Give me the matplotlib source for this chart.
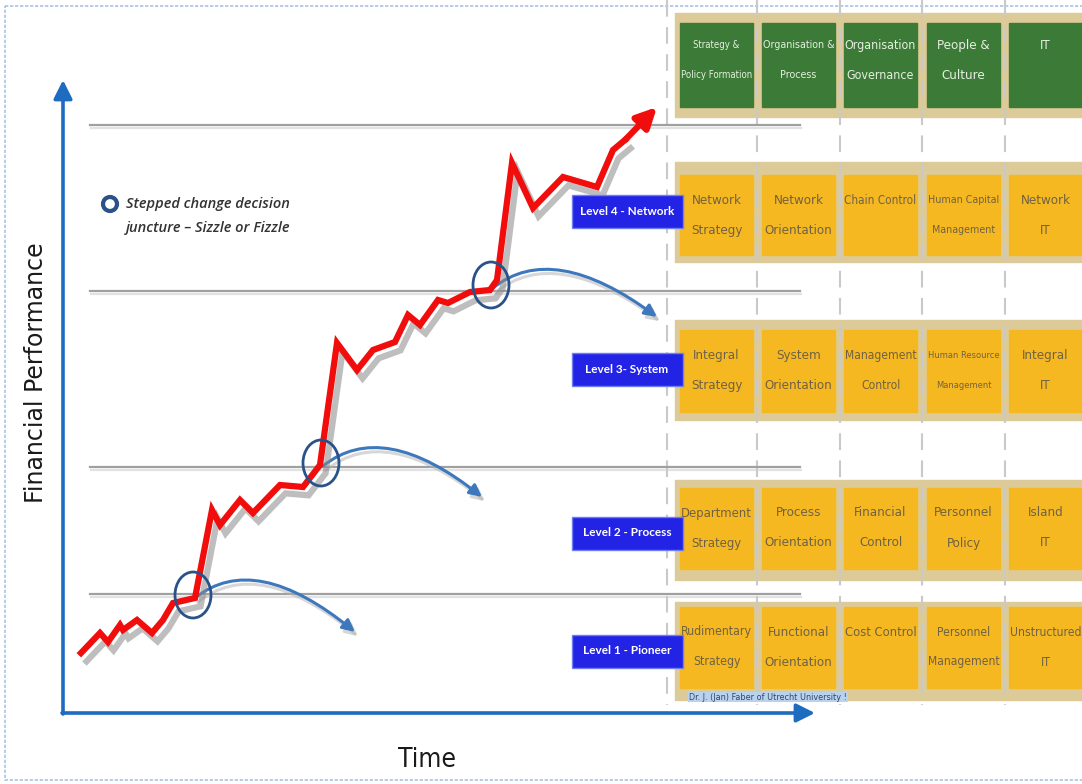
import matplotlib
matplotlib.use("Agg")
import matplotlib.pyplot as plt
import matplotlib.patheffects as pe
from matplotlib import font_manager
from matplotlib.patches import Rectangle, Ellipse, Circle, FancyArrowPatch
from matplotlib.path import Path

# ==============================
# -------- DATA ----------------
# ==============================

# red performance line (time, performance) in canvas units
perf_time = [81, 100, 108, 120, 123, 137, 152, 163, 173, 195, 212, 220, 240, 253,
             280, 303, 320, 337, 357, 373, 395, 408, 420, 438, 448, 470, 490, 497,
             512, 533, 563, 597, 613, 625]
perf_value = [653, 633, 642, 625, 630, 620, 633, 620, 603, 598, 510, 525, 500, 513,
              485, 487, 465, 343, 370, 350, 342, 315, 325, 300, 303, 292, 290, 280,
              163, 208, 177, 187, 150, 140]
perf_tip = (657, 107)

# decision junctures (circles) and the "fizzle" curves leaving them
junct_x = [193, 321, 491]
junct_y = [595, 463, 285]
fizzle_end_x = [355, 482, 657]
fizzle_end_y = [632, 497, 317]

# stepped levels (grey horizontal lines)
level_lines = [125, 291, 467, 594]

# table
col_headers = ["Strategy &\nPolicy Formation", "Organisation &\nProcess",
               "Organisation\nGovernance", "People &\nCulture", "IT"]
level_names = ["Level 4 - Network", "Level 3- System", "Level 2 - Process", "Level 1 - Pioneer"]
level_cells = [
    ["Network\nStrategy", "Network\nOrientation", "Chain Control", "Human Capital\nManagement", "Network\nIT"],
    ["Integral\nStrategy", "System\nOrientation", "Management\nControl", "Human Resource\nManagement", "Integral\nIT"],
    ["Department\nStrategy", "Process\nOrientation", "Financial\nControl", "Personnel\nPolicy", "Island\nIT"],
    ["Rudimentary\nStrategy", "Functional\nOrientation", "Cost Control", "Personnel\nManagement", "Unstructured\nIT"],
]

# ==============================
# -------- LAYOUT --------------
# ==============================

W, H = 1082, 784
col_left = [680, 762, 844, 927, 1009]
col_w = 73
dash_x = [667, 757, 840, 922, 1005]
row_beige = [(162, 262), (320, 420), (480, 580), (602, 700)]
row_cell = [(175, 255), (330, 412), (488, 569), (607, 688)]
label_y = [211, 369, 533, 651]

BLUE_AX = "#1e6cc0"
BEIGE = "#dccb98"
ORANGE = "#f6b821"
GREEN = "#3b7b37"
CELL_TXT = "#6f6243"


def narrow_font():
    # pick a condensed face if one is installed, else a plain one
    for fam, st in [("Liberation Sans Narrow", "normal"), ("DejaVu Sans", "condensed")]:
        try:
            fp = font_manager.FontProperties(family=fam, stretch=st)
            f = font_manager.findfont(fp, fallback_to_default=False)
        except Exception:
            continue
        if "Narrow" in f or "Condensed" in f:
            return dict(family=fam, fontstretch=st)
    return dict(family="Liberation Sans")


NARROW = narrow_font()

fig = plt.figure(figsize=(W / 100, H / 100), dpi=100)
ax = fig.add_axes([0, 0, 1, 1])
ax.set_xlim(0, W)
ax.set_ylim(H, 0)
ax.axis("off")
renderer = fig.canvas.get_renderer()


def cell_text(cx, y0, txt, color, fs=9.5, maxw=72):
    # one text per line; the whole cell shrinks together until every line fits
    texts = []
    for i, line in enumerate(txt.split("\n")):
        texts.append(ax.text(cx + col_w / 2, y0 + 30 * i, line, ha="center", va="center",
                             fontsize=fs, color=color, zorder=4, **NARROW))
    widest = max(t.get_window_extent(renderer).width for t in texts)
    if widest > maxw:
        for t in texts:
            t.set_fontsize(fs * maxw / widest)


# outer frame
ax.add_patch(Rectangle((5, 6), W, 774, fill=False, ec="#a9c3e6", lw=1.2, ls=(0, (2, 1))))

# dashed column separators
for x in dash_x:
    ax.plot([x, x], [0, 705], color="#c9c9c9", lw=1.5, ls=(0, (8, 5)), zorder=2)

# grey level lines
for y in level_lines:
    ax.plot([90, 800], [y, y], color="#a0a0a0", lw=1.6, zorder=3,
            path_effects=[pe.SimpleLineShadow(offset=(1, -2), shadow_color="#cfcfcf", alpha=0.6), pe.Normal()])

# axes arrows
ax.annotate("", xy=(63, 80), xytext=(63, 714),
            arrowprops=dict(arrowstyle="-|>", color=BLUE_AX, lw=2.6, mutation_scale=28, shrinkA=0, shrinkB=0))
ax.annotate("", xy=(815, 713), xytext=(62, 713),
            arrowprops=dict(arrowstyle="-|>", color=BLUE_AX, lw=2.6, mutation_scale=28, shrinkA=0, shrinkB=0))
ax.text(36, 373, "Financial Performance", rotation=90, ha="center", va="center",
        fontsize=17, color="#1a1a1a", family="DejaVu Sans")
ax.text(427, 760, "Time", ha="center", va="center", fontsize=19, color="#1a1a1a", **NARROW)

# fizzle curves
for sx, sy, ex, ey in zip(junct_x, junct_y, fizzle_end_x, fizzle_end_y):
    path = Path([(sx + 2, sy + 3), (sx + 62, sy - 45), (ex, ey)],
                [Path.MOVETO, Path.CURVE3, Path.CURVE3])
    arr = FancyArrowPatch(path=path, arrowstyle="-|>", mutation_scale=18, color="#3d78bd",
                          lw=2.2, zorder=5,
                          path_effects=[pe.SimpleLineShadow(offset=(2, -3), shadow_color="#b0b0b0", alpha=0.5),
                                        pe.Normal()])
    ax.add_patch(arr)

# red performance line
ax.plot(perf_time, perf_value, color="#f20d0d", lw=4.5, solid_joinstyle="miter", zorder=6,
        path_effects=[pe.SimpleLineShadow(offset=(4, -6), shadow_color="#8a8a8a", alpha=0.55, rho=0.3),
                      pe.Normal()])
ax.annotate("", xy=perf_tip, xytext=(perf_time[-1], perf_value[-1]),
            arrowprops=dict(arrowstyle="-|>", color="#f20d0d", lw=4.5, mutation_scale=30,
                            shrinkA=0, shrinkB=0), zorder=6)

# juncture circles
for x, y in zip(junct_x, junct_y):
    ax.add_patch(Ellipse((x, y), 36, 46, fill=False, ec="#2a5288", lw=2, zorder=7))

# legend
ax.add_patch(Circle((110, 204), 7, fill=False, ec="#2a5288", lw=3))
ax.text(126, 204, "Stepped change decision", fontsize=10.5, style="italic", weight="semibold",
        color="#333333", va="center", family="Open Sans")
ax.text(126, 228, "juncture \u2013 Sizzle or Fizzle", fontsize=10.5, style="italic", weight="semibold",
        color="#333333", va="center", family="Open Sans")

# header row
ax.add_patch(Rectangle((675, 13), W - 675, 104, color=BEIGE, zorder=1))
for cx, txt in zip(col_left, col_headers):
    ax.add_patch(Rectangle((cx, 23), col_w, 84, color=GREEN, zorder=3))
    cell_text(cx, 45, txt, "#e6eee0")

# level rows
for (bt, bb), (ct, cb), ly, name, cells in zip(row_beige, row_cell, label_y, level_names, level_cells):
    ax.add_patch(Rectangle((675, bt), W - 675, bb - bt, color=BEIGE, zorder=1))
    for cx, txt in zip(col_left, cells):
        ax.add_patch(Rectangle((cx, ct), col_w, cb - ct, color=ORANGE, zorder=3))
        cell_text(cx, ct + 25, txt, CELL_TXT)
    ax.add_patch(Rectangle((572, ly - 16), 111, 33, fc="#2323e6", ec="#6f7ff0", lw=1, zorder=8))
    ax.text(627, ly, name, ha="center", va="center", fontsize=8.5, color="white",
            weight="bold", family="Lato", zorder=9)

# credit
ax.text(689, 697, "Dr. J. (Jan) Faber of Utrecht University !", fontsize=6.5, color="#334466",
        va="center", zorder=4, bbox=dict(boxstyle="square,pad=0.1", fc="#b9d3ef", ec="none"), **NARROW)

fig.savefig("out.png", dpi=100)
